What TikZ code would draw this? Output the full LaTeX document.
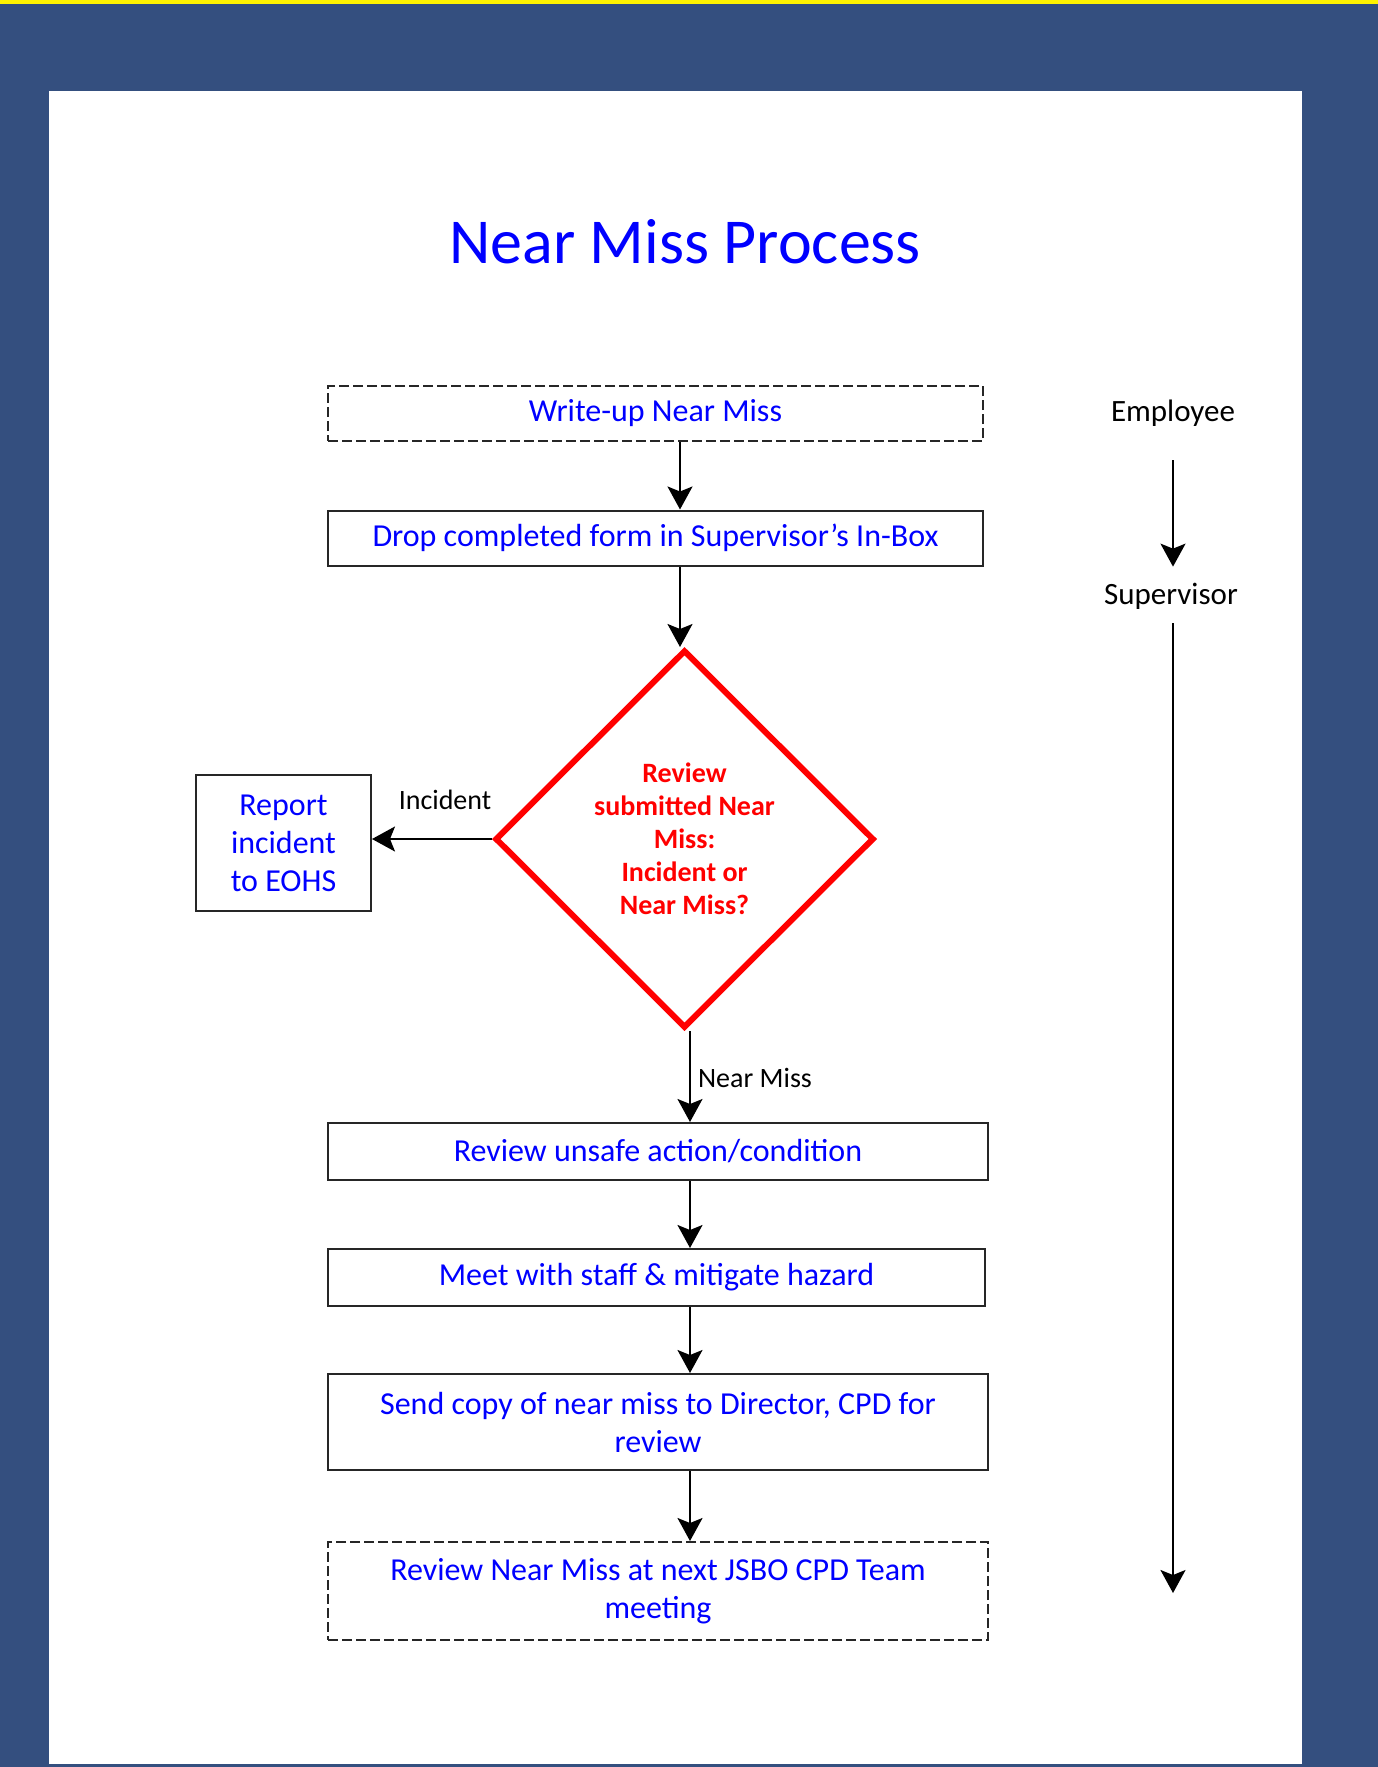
\documentclass[tikz,border=0pt]{standalone}
\usepackage{fontspec}
\setmainfont{Carlito}
\usetikzlibrary{shapes.geometric}
\usetikzlibrary{arrows.meta}

\definecolor{panelblue}{RGB}{52,79,127}
\definecolor{textblue}{RGB}{0,0,255}

\begin{document}
\begin{tikzpicture}[x=1pt,y=-1pt,
  box/.style={draw=black!85,line width=2pt,minimum width=655pt,minimum height=55pt,inner sep=0pt,align=center,text=textblue,font=\fontsize{32}{38}\selectfont},
  dbox/.style={box,dash pattern=on 10pt off 4pt},
  check/.style={diamond,draw=red,line width=6pt,minimum width=379pt,minimum height=378pt,inner sep=0pt,align=center,text=red,font=\fontsize{28}{33}\selectfont\bfseries},
  lbl/.style={font=\fontsize{28}{33}\selectfont,inner sep=0pt},
  side/.style={font=\fontsize{31}{36}\selectfont,inner sep=0pt},
  arr/.style={-{Stealth[length=23pt,width=25pt,inset=5pt]},line width=2pt}]

% background and panel
\fill[panelblue] (0,0) rectangle (1378,1767);
\fill[yellow] (0,0) rectangle (1378,4);
\fill[white] (49,91) rectangle (1302,1764);

% title
\node[font=\fontsize{64}{70}\selectfont,text=textblue] (title) at (685,242) {Near Miss Process};

% steps
\node[dbox] (write) at (655.5,413.5) {Write-up Near Miss};
\node[box] (drop) at (655.5,538) {Drop completed form in Supervisor's In-Box};
\node[check] (check) at (684.5,839) {Review\\submitted Near\\Miss:\\Incident or\\Near Miss?};
\node[box,minimum width=175pt,minimum height=136pt] (report) at (283.5,843) {Report\\incident\\to EOHS};
\node[box,minimum width=660pt,minimum height=57pt] (unsafe) at (658,1151.5) {Review unsafe action/condition};
\node[box,minimum width=657pt,minimum height=57pt] (meet) at (656.5,1277.5) {Meet with staff \& mitigate hazard};
\node[box,minimum width=660pt,minimum height=96pt] (send) at (658,1422) {Send copy of near miss to Director, CPD for\\review};
\node[dbox,minimum width=660pt,minimum height=98pt] (team) at (658,1591) {Review Near Miss at next JSBO CPD Team\\meeting};

% branch labels
\node[lbl] (inc) at (445,800) {Incident};
\node[lbl] (nm) at (755,1078) {Near Miss};

% roles
\node[side] (emp) at (1173,413) {Employee};
\node[side] (sup) at (1171,596) {Supervisor};
\coordinate (supend) at (1173,1593);

% arrows
\coordinate (upper) at (680,0);
\coordinate (lower) at (690,0);
\draw[arr] (write.south -| upper) -- (drop.north -| upper);
\draw[arr] (drop.south -| upper) -- (check.north -| upper);
\draw[arr] (check.west) -- (check.west -| report.east);
\draw[arr] (check.south -| lower) -- (unsafe.north -| lower);
\draw[arr] (unsafe.south -| lower) -- (meet.north -| lower);
\draw[arr] (meet.south -| lower) -- (send.north -| lower);
\draw[arr] (send.south -| lower) -- (team.north -| lower);
\draw[arr,shorten <=34pt,shorten >=16pt] (emp.south) -- (emp.south |- sup.north);
\draw[arr,shorten <=14pt] (sup.south -| emp.south) -- (supend);

\end{tikzpicture}
\end{document}
